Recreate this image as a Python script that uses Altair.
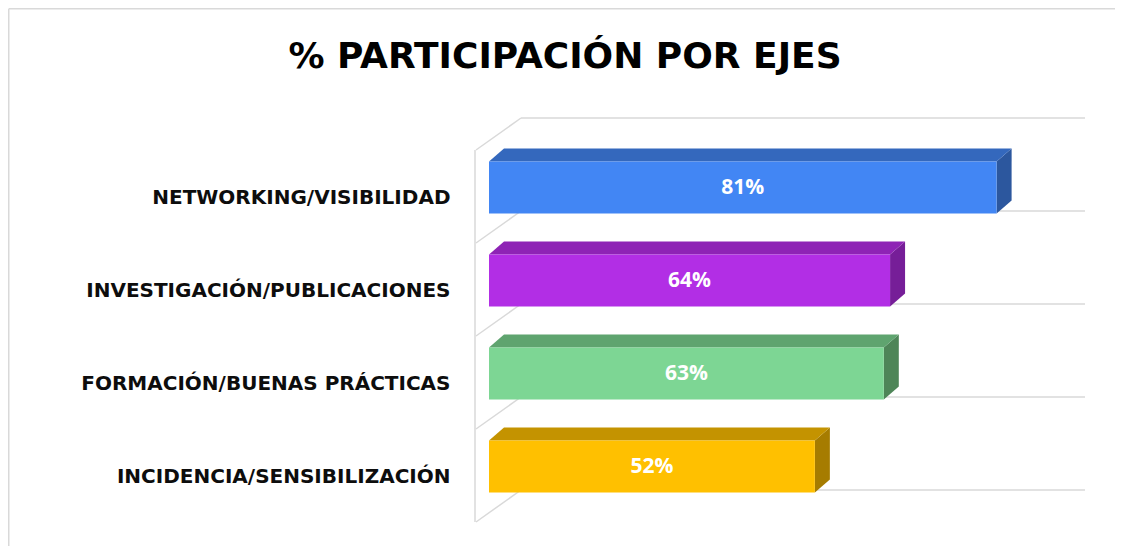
import altair as alt
import pandas as pd

# ---- data ----
categories = ["NETWORKING/VISIBILIDAD", "INVESTIGACIÓN/PUBLICACIONES",
              "FORMACIÓN/BUENAS PRÁCTICAS", "INCIDENCIA/SENSIBILIZACIÓN"]
values = [0.81, 0.64, 0.63, 0.52]
front_colors = ["#4286F4", "#B22EE5", "#7DD694", "#FFC000"]
top_colors = ["#3468BD", "#8E23B5", "#5FA46F", "#C49300"]
side_colors = ["#2C579E", "#761E98", "#4E8558", "#A67C00"]
title_text = "% PARTICIPACIÓN POR EJES"

# ---- geometry constants (styling) ----
W, H = 564, 372
PAD_L, PAD_T, PAD_R, PAD_B = 481, 133, 62, 33
XMAX = 0.9
n = len(categories)
BAR0, BAR1 = 0.22, 0.78            # bar extent within a category slot
DX = 15 / (W / XMAX)               # bar depth in x data units
DY = 13 / (H / n)                  # bar depth in y data units

rows = []
for i, (c, v) in enumerate(zip(categories, values)):
    rows.append(dict(cat=c, idx=i, v=v, y0=i + BAR0, y1=i + BAR1,
                     ym=i + 0.5, lab=f"{round(v*100)}%"))
bars = pd.DataFrame(rows)

top_rows, side_rows = [], []
for i, (c, v) in enumerate(zip(categories, values)):
    top_rows.append(dict(cat=c, yq=i + BAR0, xa=0.0, xb=v))
    top_rows.append(dict(cat=c, yq=i + BAR0 - DY, xa=DX, xb=v + DX))
    side_rows.append(dict(cat=c, xq=v, ya=i + BAR0, yb=i + BAR1))
    side_rows.append(dict(cat=c, xq=v + DX, ya=i + BAR0 - DY, yb=i + BAR1 - DY))
tops = pd.DataFrame(top_rows)
sides = pd.DataFrame(side_rows)
grid = pd.DataFrame({"b": list(range(n + 1)), "x0": 0.0, "x1": XMAX})
title_df = pd.DataFrame({"t": [title_text]})

xs = alt.Scale(domain=[0, XMAX], nice=False, zero=False)
ys = alt.Scale(domain=[0, n], reverse=True, nice=False, zero=False)

label_expr = "[" + ",".join(f"'{c}'" for c in categories) + "][floor(datum.value)]"
yaxis = alt.Axis(values=[i + 0.5 for i in range(n)], labelExpr=label_expr,
                 domain=False, ticks=False, tickSize=0, grid=False, title=None,
                 labelFont="DejaVu Sans", labelFontSize=20, labelFontWeight="bold",
                 labelColor="#0D0D0D", labelPadding=39, labelOffset=10, labelLimit=0)
GRID = "#D9D9D9"

back_lines = alt.Chart(grid).mark_rule(color=GRID, strokeWidth=1.5, xOffset=32,
                                        x2Offset=32, yOffset=-23).encode(
    x=alt.X("x0:Q", scale=xs, axis=None), x2="x1:Q",
    y=alt.Y("b:Q", scale=ys, axis=yaxis))
diag_lines = alt.Chart(grid).mark_rule(color=GRID, strokeWidth=1.5, xOffset=-13,
                                        x2Offset=32, yOffset=9, y2Offset=-23).encode(
    x=alt.X("x0:Q", scale=xs, axis=None), x2="x0:Q",
    y=alt.Y("b:Q", scale=ys, axis=yaxis), y2="b:Q")
front_line = alt.Chart(grid).transform_aggregate(
    bmin="min(b)", bmax="max(b)", x0="min(x0)").mark_rule(
    color=GRID, strokeWidth=1.5, xOffset=-14, x2Offset=-14, yOffset=9, y2Offset=9).encode(
    x=alt.X("x0:Q", scale=xs, axis=None),
    y=alt.Y("bmin:Q", scale=ys, axis=yaxis), y2="bmax:Q")

# outer chart frame (top and left edges, as in the reference)
frame_top = alt.Chart(grid).transform_aggregate(x0="min(x0)").mark_rule(
    color=GRID, strokeWidth=1.5).encode(
    x=alt.value(-PAD_L + 0.75), x2=alt.value(W + PAD_R), y=alt.value(-PAD_T + 0.75))
frame_left = alt.Chart(grid).transform_aggregate(x0="min(x0)").mark_rule(
    color=GRID, strokeWidth=1.5).encode(
    x=alt.value(-PAD_L + 0.75), y=alt.value(-PAD_T + 0.75), y2=alt.value(H + PAD_B))

# chart title drawn as a text mark
title_mark = alt.Chart(title_df).mark_text(
    font="DejaVu Sans", fontSize=36, fontWeight="bold", color="#000000",
    align="center", baseline="alphabetic").encode(
    x=alt.value(565 - 8 - PAD_L), y=alt.value(68 - 8 - PAD_T), text="t:N")

side_faces = alt.Chart(sides).mark_area(orient="vertical").encode(
    x=alt.X("xq:Q", scale=xs, axis=None),
    y=alt.Y("ya:Q", scale=ys, axis=yaxis), y2="yb:Q",
    color=alt.Color("cat:N", scale=alt.Scale(domain=categories, range=side_colors), legend=None),
    detail="cat:N")
top_faces = alt.Chart(tops).mark_area(orient="horizontal").encode(
    y=alt.Y("yq:Q", scale=ys, axis=yaxis),
    x=alt.X("xa:Q", scale=xs, axis=None), x2="xb:Q",
    color=alt.Color("cat:N", scale=alt.Scale(domain=categories, range=top_colors), legend=None),
    detail="cat:N")
front_faces = alt.Chart(bars).mark_bar(cornerRadius=0).encode(
    x=alt.X("v:Q", scale=xs, axis=None),
    x2=alt.datum(0),
    y=alt.Y("y0:Q", scale=ys, axis=yaxis), y2="y1:Q",
    color=alt.Color("cat:N", scale=alt.Scale(domain=categories, range=front_colors), legend=None))
value_labels = alt.Chart(bars).transform_calculate(xm="datum.v / 2").mark_text(
    font="Open Sans", fontSize=21, fontWeight="bold", color="white", baseline="middle").encode(
    x=alt.X("xm:Q", scale=xs, axis=None),
    y=alt.Y("ym:Q", scale=ys, axis=yaxis), text="lab:N")

chart = alt.layer(frame_top, frame_left, title_mark, back_lines, diag_lines, front_line,
                  side_faces, top_faces, front_faces, value_labels).resolve_scale(
    color="independent").properties(
    width=W, height=H,
    background="white",
    autosize=alt.AutoSizeParams(type="none"),
    padding={"left": PAD_L, "top": PAD_T, "right": PAD_R, "bottom": PAD_B},
).configure_view(strokeWidth=0, stroke=None)

chart.save("out.html", embed_options={"renderer": "svg", "actions": False})
